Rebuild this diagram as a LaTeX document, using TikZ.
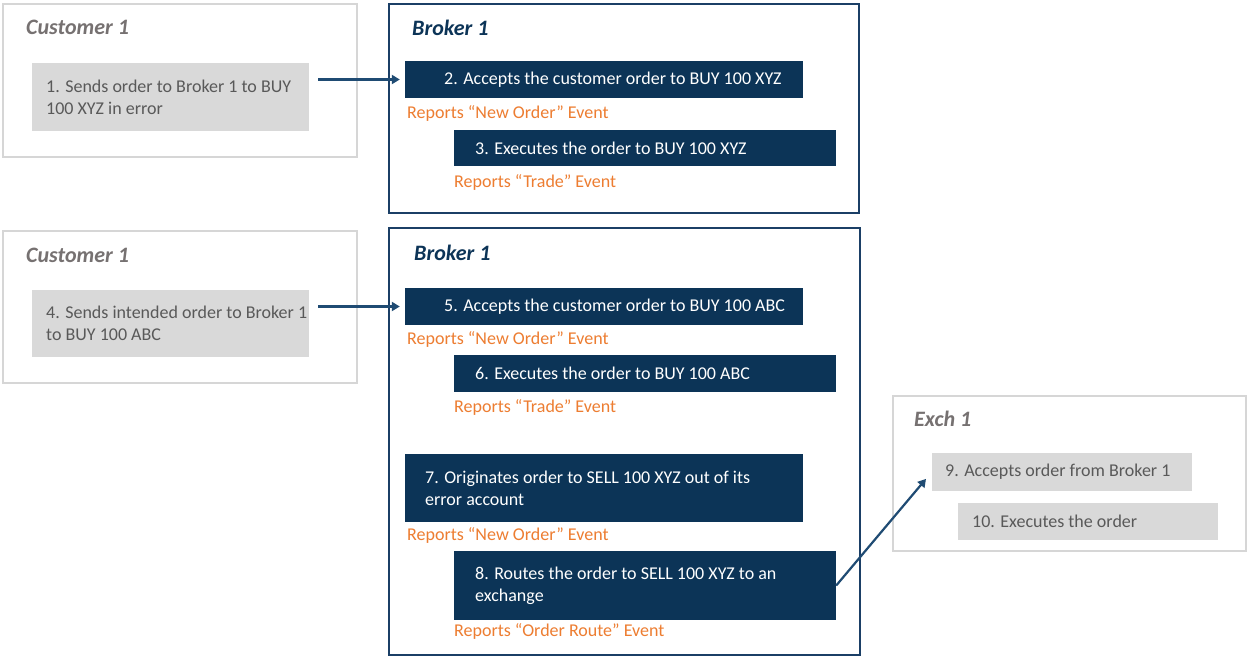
\documentclass[tikz,border=0pt]{standalone}
\usepackage{fontspec}
\setmainfont{Carlito}
\usetikzlibrary{arrows.meta}
\definecolor{navy}{HTML}{0C3457}
\definecolor{navyline}{HTML}{1B3F66}
\definecolor{arrowc}{HTML}{1F4B73}
\definecolor{orangec}{HTML}{ED7D31}
\definecolor{graybox}{HTML}{D9D9D9}
\definecolor{grayframe}{HTML}{D6D6D6}
\definecolor{graytext}{HTML}{595959}
\definecolor{graytitle}{HTML}{767171}
\begin{document}
\begin{tikzpicture}[x=1pt,y=-1pt,
  custframe/.style={draw=grayframe,line width=1.8pt},
  brokframe/.style={draw=navyline,line width=1.8pt},
  title/.style={font=\fontsize{22}{26}\selectfont\bfseries\itshape,anchor=base west,inner sep=0pt},
  custtitle/.style={title,text=graytitle},
  broktitle/.style={title,text=navy},
  graystep/.style={fill=graybox,inner sep=0pt},
  navystep/.style={fill=navy,inner sep=0pt},
  graylabel/.style={text=graytext,font=\fontsize{18}{22}\selectfont,align=left,anchor=west,inner sep=0pt},
  navylabel/.style={text=white,font=\fontsize{18}{22}\selectfont,align=left,anchor=west,inner sep=0pt},
  report/.style={text=orangec,font=\fontsize{18}{22}\selectfont,anchor=base west,inner sep=0pt},
  conn/.style={draw=arrowc,line width=2.2pt,-{Triangle[length=8pt,width=9pt]}}
]
\useasboundingbox (0,0) rectangle (1249,656);
\fill[white] (0,0) rectangle (1249,656);

% ---- top row ----
\draw[custframe] (3,4) rectangle (357,157);
\node[custtitle] (ct1) at (26,34.5) {Customer 1};
\node[graystep,minimum width=277pt,minimum height=68pt] (s1) at (170.5,97) {};
\node[graylabel] (t1) at (46,97) {1. Sends order to Broker 1 to BUY\\100 XYZ in error};

\draw[brokframe] (389,4) rectangle (859,213);
\node[broktitle] (bt1) at (412,35) {Broker 1};
\node[navystep,minimum width=398pt,minimum height=37pt] (s2) at (604,79.5) {};
\node[navylabel] (t2) at (444,79.5) {2. Accepts the customer order to BUY 100 XYZ};
\node[report] (r2) at (407,118) {Reports “New Order” Event};
\node[navystep,minimum width=382pt,minimum height=36pt] (s3) at (645,148) {};
\node[navylabel] (t3) at (475,148) {3. Executes the order to BUY 100 XYZ};
\node[report] (r3) at (454,187) {Reports “Trade” Event};

\draw[conn,shorten <=9pt,shorten >=5pt] (s1.east |- s2.west) -- (s2.west);

% ---- bottom row ----
\draw[custframe] (3,231) rectangle (357,383);
\node[custtitle] (ct2) at (26,262) {Customer 1};
\node[graystep,minimum width=277pt,minimum height=67pt] (s4) at (170.5,323.5) {};
\node[graylabel] (t4) at (46,323.5) {4. Sends intended order to Broker 1\\to BUY 100 ABC};

\draw[brokframe] (389,228) rectangle (860,655);
\node[broktitle] (bt2) at (414,260) {Broker 1};
\node[navystep,minimum width=398pt,minimum height=37pt] (s5) at (604,306.5) {};
\node[navylabel] (t5) at (444,306.5) {5. Accepts the customer order to BUY 100 ABC};
\node[report] (r5) at (407,344) {Reports “New Order” Event};
\node[navystep,minimum width=382pt,minimum height=37pt] (s6) at (645,373.5) {};
\node[navylabel] (t6) at (475,373.5) {6. Executes the order to BUY 100 ABC};
\node[report] (r6) at (454,412) {Reports “Trade” Event};
\node[navystep,minimum width=398pt,minimum height=68pt] (s7) at (604,488) {};
\node[navylabel] (t7) at (425,488) {7. Originates order to SELL 100 XYZ out of its\\error account};
\node[report] (r7) at (407,540) {Reports “New Order” Event};
\node[navystep,minimum width=382pt,minimum height=69pt] (s8) at (645,585.5) {};
\node[navylabel] (t8) at (475,586) {8. Routes the order to SELL 100 XYZ to an\\exchange};
\node[report] (r8) at (454,636) {Reports “Order Route” Event};

\draw[conn,shorten <=9pt,shorten >=5pt] (s4.east |- s5.west) -- (s5.west);

\draw[custframe] (893,396) rectangle (1246,551);
\node[custtitle] (et) at (914,426.5) {Exch 1};
\node[graystep,minimum width=260pt,minimum height=38pt] (s9) at (1062,472) {};
\node[graylabel] (t9) at (945,472) {9. Accepts order from Broker 1};
\node[graystep,minimum width=260pt,minimum height=37pt] (s10) at (1088,521.5) {};
\node[graylabel] (t10) at (972,521.5) {10. Executes the order};

\draw[conn,shorten >=9pt] (s8.east) -- (s9.west);
\end{tikzpicture}
\end{document}
